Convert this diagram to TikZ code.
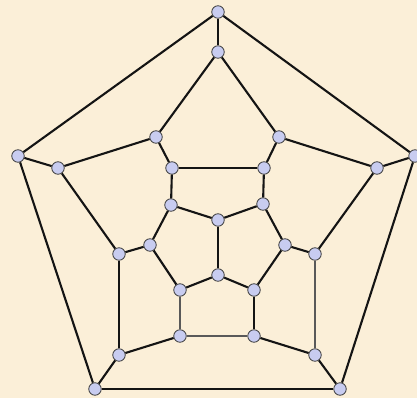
\documentclass[tikz,border=0pt]{standalone}
\begin{document}
\begin{tikzpicture}[x=1pt,y=-1pt,
  vtx/.style={circle,draw=black!75,line width=0.8pt,fill=vfill,minimum size=12.5pt,inner sep=0pt},
  edge/.style={line width=2.1pt,black!92},
  thin edge/.style={line width=1.3pt,black!65}]
\definecolor{bg}{RGB}{251,239,216}
\definecolor{vfill}{RGB}{200,204,240}
\fill[bg] (0,0) rectangle (417,398);
\useasboundingbox (0,0) rectangle (417,398);
\node[vtx] (n1) at (218,12) {};
\node[vtx] (n2) at (18,156) {};
\node[vtx] (n3) at (415,156) {};
\node[vtx] (n4) at (95,389) {};
\node[vtx] (n5) at (340,389) {};
\node[vtx] (n6) at (218,52) {};
\node[vtx] (n7) at (58,168) {};
\node[vtx] (n8) at (377,168) {};
\node[vtx] (n9) at (119,355) {};
\node[vtx] (n10) at (315,355) {};
\node[vtx] (n11) at (156,137) {};
\node[vtx] (n12) at (279,137) {};
\node[vtx] (n13) at (172,168) {};
\node[vtx] (n14) at (264,168) {};
\node[vtx] (n15) at (171,205) {};
\node[vtx] (n16) at (263,204) {};
\node[vtx] (n17) at (218,220) {};
\node[vtx] (n18) at (150,245) {};
\node[vtx] (n19) at (285,245) {};
\node[vtx] (n20) at (119,254) {};
\node[vtx] (n21) at (315,254) {};
\node[vtx] (n22) at (218,275) {};
\node[vtx] (n23) at (180,290) {};
\node[vtx] (n24) at (254,290) {};
\node[vtx] (n25) at (180,336) {};
\node[vtx] (n26) at (254,336) {};
\foreach \a/\b in {1/2,1/3,1/6,2/7,2/4,3/8,3/5,4/5,4/9,5/10,6/11,6/12,7/11,7/20,8/12,8/21,9/20,9/25,10/26,11/13,12/14,13/14,13/15,14/16,15/17,15/18,16/17,16/19,17/22,18/20,18/23,19/21,19/24,22/23,22/24,24/26}
  \draw[edge] (n\a) -- (n\b);
\foreach \a/\b in {10/21,25/26,23/25}
  \draw[thin edge] (n\a) -- (n\b);
\end{tikzpicture}
\end{document}
